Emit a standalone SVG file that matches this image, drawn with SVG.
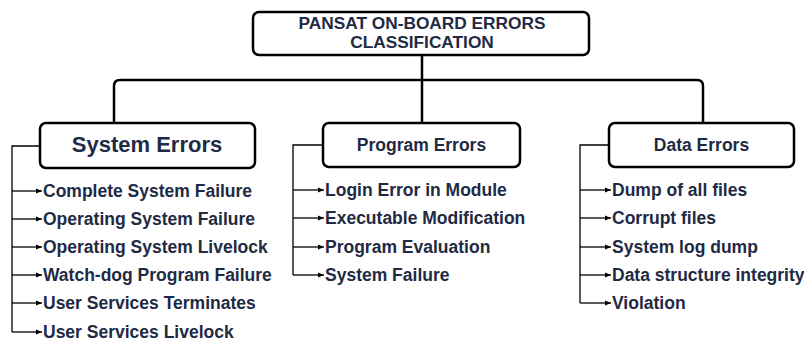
<svg xmlns="http://www.w3.org/2000/svg" width="804" height="343" viewBox="0 0 804 343">
<defs>
<marker id="ah" viewBox="0 0 6 6" refX="6" refY="3" markerWidth="6" markerHeight="6" markerUnits="userSpaceOnUse" orient="auto">
<path d="M0,0.5 L6,3 L0,5.5 Z" fill="#000"/>
</marker>
<style>
.box{fill:#fff;stroke:#000;stroke-width:2.5}
.tree{fill:none;stroke:#000;stroke-width:2.5}
.br{fill:none;stroke:#000;stroke-width:1.3}
.ar{fill:none;stroke:#000;stroke-width:1.3;marker-end:url(#ah)}
text{font-family:"Liberation Sans",Arial,sans-serif;font-weight:bold;fill:#1f2a44}
.t{font-size:17.3px;text-anchor:middle}
.h{font-size:17.5px;text-anchor:middle}
.i{font-size:17.5px}
</style>
</defs>
<g id="connectors">
<path class="tree" d="M422,55 V123"/>
<path class="tree" d="M114,123 V86 Q114,80 120,80 H697 Q703,80 703,86 V123"/>
<path class="br" d="M40,146 H12 V332"/>
<path class="ar" d="M12,191 H42"/>
<path class="ar" d="M12,219 H42"/>
<path class="ar" d="M12,247 H42"/>
<path class="ar" d="M12,275 H42"/>
<path class="ar" d="M12,303 H42"/>
<path class="ar" d="M12,332 H42"/>
<path class="br" d="M323,145 H293 V275"/>
<path class="ar" d="M293,190 H324"/>
<path class="ar" d="M293,218 H324"/>
<path class="ar" d="M293,247 H324"/>
<path class="ar" d="M293,275 H324"/>
<path class="br" d="M609,145 H580 V303"/>
<path class="ar" d="M580,190 H611"/>
<path class="ar" d="M580,218 H611"/>
<path class="ar" d="M580,247 H611"/>
<path class="ar" d="M580,275 H611"/>
<path class="ar" d="M580,303 H611"/>
</g>
<g id="root">
<rect class="box" x="253" y="12" width="336" height="43" rx="6"/>
<text class="t" x="422" y="29">PANSAT ON-BOARD ERRORS</text>
<text class="t" x="422" y="48">CLASSIFICATION</text>
</g>
<g id="system-errors">
<rect class="box" x="40" y="123" width="215" height="45" rx="6"/>
<text x="147" y="152" style="font-size:22px;text-anchor:middle">System Errors</text>
</g>
<g id="program-errors">
<rect class="box" x="323" y="123" width="197" height="44" rx="6"/>
<text class="h" x="421.5" y="151">Program Errors</text>
</g>
<g id="data-errors">
<rect class="box" x="609" y="123" width="185" height="44" rx="6"/>
<text class="h" x="701.5" y="151">Data Errors</text>
</g>
<g id="system-items">
<text class="i" x="43" y="197">Complete System Failure</text>
<text class="i" x="43" y="225">Operating System Failure</text>
<text class="i" x="43" y="253">Operating System Livelock</text>
<text class="i" x="43" y="281">Watch-dog Program Failure</text>
<text class="i" x="43" y="309">User Services Terminates</text>
<text class="i" x="43" y="338">User Services Livelock</text>
</g>
<g id="program-items">
<text class="i" x="325" y="196">Login Error in Module</text>
<text class="i" x="325" y="224">Executable Modification</text>
<text class="i" x="325" y="253">Program Evaluation</text>
<text class="i" x="325" y="281">System Failure</text>
</g>
<g id="data-items">
<text class="i" x="612" y="196">Dump of all files</text>
<text class="i" x="612" y="224">Corrupt files</text>
<text class="i" x="612" y="253">System log dump</text>
<text class="i" x="612" y="281">Data structure integrity</text>
<text class="i" x="612" y="309">Violation</text>
</g>
</svg>
